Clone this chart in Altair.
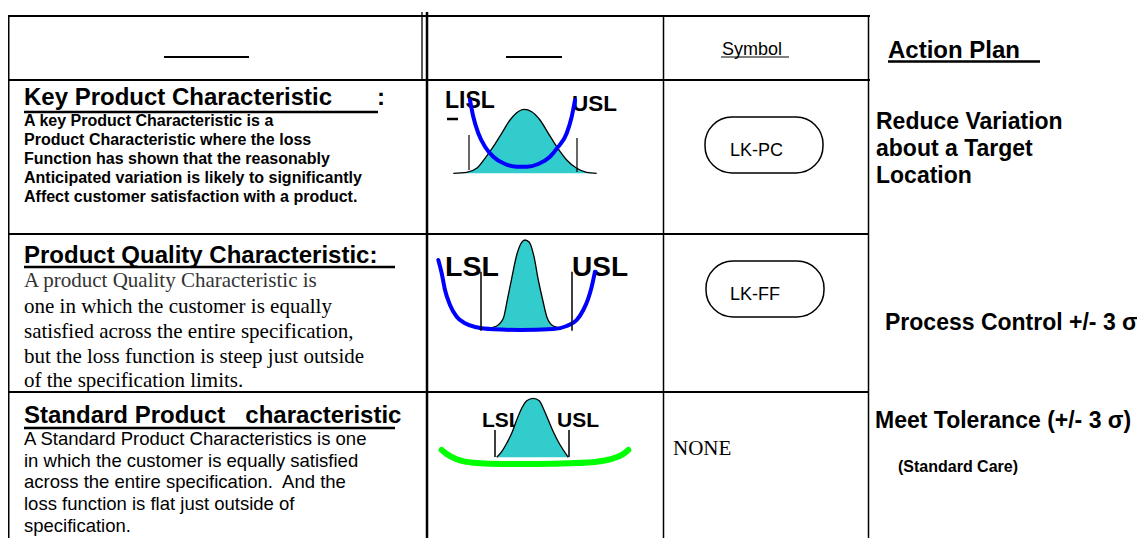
import altair as alt
import pandas as pd

# ---------------- text content ----------------
header_symbol = "Symbol"
header_action = "Action Plan"
section_titles = ["Key Product Characteristic", "Product Quality Characteristic:",
                  "Standard Product\u00a0\u00a0 characteristic"]
key_body = ["A key Product Characteristic is a",
            "Product Characteristic where the loss",
            "Function has shown that the reasonably",
            "Anticipated variation is likely to significantly",
            "Affect customer satisfaction with a product."]
quality_body = ["A product Quality Characteristic is",
                "one in which the customer is equally",
                "satisfied across the entire specification,",
                "but the loss function is steep just outside",
                "of the specification limits."]
standard_body = ["A Standard Product Characteristics is one",
                 "in which the customer is equally satisfied",
                 "across the entire specification.\u00a0 And the",
                 "loss function is flat just outside of",
                 "specification."]
symbol_labels = ["LK-PC", "LK-FF"]
none_label = "NONE"
action_lines = ["Reduce Variation", "about a Target", "Location",
                "Process Control +/- 3 \u03c3", "Meet Tolerance (+/- 3 \u03c3)"]
action_note = "(Standard Care)"
limit_labels = ["LISL", "USL", "LSL", "USL", "LSL", "USL"]

# ---------------- curves ----------------
bell1_x = [453.3, 466.7, 476.7, 485, 493.3, 501.7, 510, 516.7, 524, 531.7, 540, 548.3, 556.7, 566.7, 576.7, 586.7, 596.7]
bell1_y = [173.3, 172.3, 168.3, 158.3, 146.7, 133.3, 120, 112.7, 109.3, 111.7, 120, 133.3, 146.7, 160, 168.3, 172.3, 173.3]
bell2_x = [488.3, 496.7, 503.3, 507.3, 511.7, 516.7, 521.7, 525, 529.3, 534, 538.3, 542.7, 547.3, 553.3, 561.7]
bell2_y = [328.3, 326, 318.3, 300, 278.3, 255, 242.3, 240, 242.3, 256.7, 280, 300, 318.3, 326, 328.3]
bell3_x = [496.7, 501.7, 506.7, 511.7, 516.7, 521.7, 526.7, 533.3, 539.3, 544, 548.3, 553.3, 558.3, 563.3, 568.3]
bell3_y = [457.3, 451.7, 443.3, 433.3, 420, 408.3, 400.7, 398.3, 400.7, 410, 420, 431.7, 441.7, 450, 457.3]
bell_base = [173.3, 328.3, 457.3]

loss1_x = [470, 473.3, 478.3, 485, 493.3, 505, 516.7, 526.7, 538.3, 550, 558.3, 566.7, 571.7, 575]
loss1_y = [100, 116.7, 133.3, 146.7, 156.7, 164, 166.7, 166.7, 164, 156.7, 146.7, 133.3, 116.7, 100]
loss2_x = [438.3, 441.7, 445, 450, 456.7, 465, 476.7, 493.3, 520, 553.3, 566.7, 576.7, 583.3, 588.3, 591.7, 595]
loss2_y = [260, 273.3, 290, 305, 316.7, 323.3, 327.3, 329.3, 330, 329, 326, 320, 310, 298.3, 286.7, 271.7]
loss3_x = [441.7, 446.7, 456.7, 473.3, 503.3, 536.7, 570, 596.7, 613.3, 623.3, 628.3]
loss3_y = [450, 454, 459.3, 462.7, 464, 464, 463.3, 461.7, 458.3, 454, 450]

# ---------------- layout (pixel positions of the drawing) ----------------
h_rules = pd.DataFrame({
    "x":  [64, 8, 8, 8, 8, 164, 506, 721, 888, 24, 24, 24, 447],
    "x2": [897, 870, 870, 868, 868, 249, 562, 789, 1040, 378, 395, 395, 458],
    "y":  [3, 16, 80, 234, 392, 57, 57, 57, 61.5, 112, 267, 428, 119],
    "w":  [2.5, 2, 2, 2, 2, 1.8, 1.8, 1, 2.5, 2.5, 2.5, 2.5, 2.5],
})
v_rules = pd.DataFrame({
    "x":  [8.5, 4, 8.5, 422, 427, 663.5, 868.5, 469, 577, 481, 572, 495, 569],
    "y":  [16, 84, 80, 12, 12, 16, 16, 135, 138, 271.7, 271.7, 430, 430],
    "y2": [80, 222, 546, 80, 546, 546, 546, 170, 172, 330.7, 330.7, 457, 457],
    "w":  [2, 1.2, 2, 1.3, 2.5, 1.5, 1.5, 1.2, 1.2, 1.5, 1.5, 1.5, 1.5],
})
symbol_boxes = pd.DataFrame({"x": [705, 706], "x2": [823, 824], "y": [117, 261], "y2": [173, 317]})

# page pixel = data value (the page has an 8px margin)
xs = alt.Scale(domain=[8, 1137], nice=False, zero=False)
ys = alt.Scale(domain=[8, 538], nice=False, zero=False, reverse=True)


def X(f="x"):
    return alt.X(f"{f}:Q", scale=xs, axis=None)


def Y(f="y"):
    return alt.Y(f"{f}:Q", scale=ys, axis=None, stack=None)


def text_layer(rows, font, weight="normal"):
    df = pd.DataFrame(rows, columns=["text", "x", "y", "size", "c"])
    return alt.Chart(df).mark_text(align="left", baseline="alphabetic", font=font,
                                   fontWeight=weight).encode(
        x=X(), y=Y(), text="text:N",
        size=alt.Size("size:Q", scale=None),
        color=alt.Color("c:N", scale=None))


SANS = "Liberation Sans"
SERIF = "Liberation Serif"

bold_rows = []
bold_rows.append((section_titles[0], 24, 105, 24, "black"))
bold_rows.append((":", 377, 105, 24, "black"))
bold_rows.append((section_titles[1], 24, 263, 24, "black"))
bold_rows.append((section_titles[2], 24, 423, 24, "black"))
for i, t in enumerate(key_body):
    bold_rows.append((t, 24, [126, 145, 164, 183, 202][i], 16, "black"))
bold_rows.append((header_action, 888, 58, 24, "black"))
for t, xx, yy in zip(action_lines, [876, 876, 876, 885, 875], [129, 156, 183, 330, 428]):
    bold_rows.append((t, xx, yy, 23, "black"))
bold_rows.append((action_note, 898, 472, 16, "black"))
for t, xx, yy, s in zip(limit_labels, [445, 572, 445, 572, 482, 557],
                        [108, 111, 276, 276, 427, 427], [23, 22.5, 28.5, 28, 21, 21]):
    bold_rows.append((t, xx, yy, s, "black"))

plain_rows = [(header_symbol, 722, 55, 18, "black")]
for t, yy in zip(symbol_labels, [156, 300]):
    plain_rows.append((t, 730, yy, 18, "black"))
for i, t in enumerate(standard_body):
    plain_rows.append((t, 24, [445, 467, 488, 510, 532][i], 18.5, "black"))

serif_rows = []
for i, t in enumerate(quality_body):
    serif_rows.append((t, 24, [287, 313, 338, 363, 387][i], 21, "#333333" if i == 0 else "black"))
serif_rows.append((none_label, 673, 455, 21, "black"))


def curve(xv, yv, color, width):
    df = pd.DataFrame({"x": xv, "y": yv, "i": range(len(xv))})
    return alt.Chart(df).mark_line(interpolate="monotone", color=color, strokeWidth=width,
                                   strokeCap="round").encode(x=X(), y=Y(), order="i:Q")


def bell(xv, yv, base):
    df = pd.DataFrame({"x": xv, "y": yv, "b": [base] * len(xv), "i": range(len(xv))})
    area = alt.Chart(df).mark_area(interpolate="monotone", fill="#33CCCC", fillOpacity=1,
                                   orient="vertical").encode(
        x=X(), y=Y(), y2=alt.Y2("b"))
    outline = alt.Chart(df).mark_line(interpolate="monotone", color="black", strokeWidth=1.3).encode(
        x=X(), y=Y(), order="i:Q")
    return area + outline


hr = alt.Chart(h_rules).mark_rule(color="black").encode(
    x=X(), x2="x2:Q", y=Y(), strokeWidth=alt.StrokeWidth("w:Q", scale=None))
vr = alt.Chart(v_rules).mark_rule(color="black").encode(
    x=X(), y=Y(), y2="y2:Q", strokeWidth=alt.StrokeWidth("w:Q", scale=None))
boxes = alt.Chart(symbol_boxes).mark_rect(cornerRadius=27, fill="white", stroke="black",
                                          strokeWidth=1.5).encode(
    x=X(), x2="x2:Q", y=Y(), y2="y2:Q")

chart = alt.layer(
    boxes,
    text_layer(bold_rows, SANS, "bold"),
    text_layer(plain_rows, SANS),
    text_layer(serif_rows, SERIF),
    curve(loss3_x, loss3_y, "#00FF00", 6),
    bell(bell1_x, bell1_y, bell_base[0]),
    bell(bell2_x, bell2_y, bell_base[1]),
    bell(bell3_x, bell3_y, bell_base[2]),
    curve(loss2_x, loss2_y, "#0000FF", 4),
    curve(loss1_x, loss1_y, "#0000FF", 4),
    hr,
    vr,
).properties(width=1129, height=530, padding=0, autosize="none", background="white"
).configure_view(stroke=None)

chart.save("out.html", embed_options={"renderer": "svg", "actions": False})
